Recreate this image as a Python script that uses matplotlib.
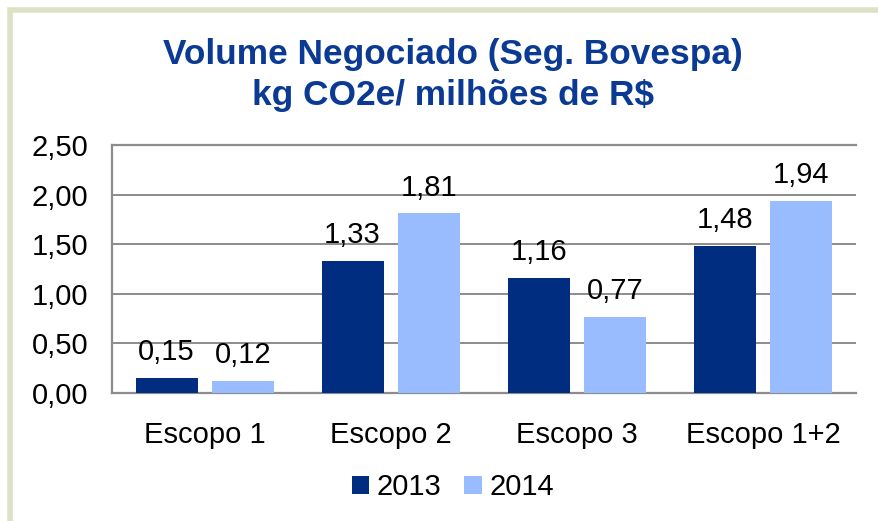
import matplotlib.pyplot as plt
import numpy as np
from matplotlib.patches import Rectangle

categories = ["Escopo 1", "Escopo 2", "Escopo 3", "Escopo 1+2"]
vals_2013 = [0.15, 1.33, 1.16, 1.48]
vals_2014 = [0.12, 1.81, 0.77, 1.94]
series_names = ["2013", "2014"]
yticks = [0.0, 0.5, 1.0, 1.5, 2.0, 2.5]

dark = "#002d7f"
light = "#99bbff"
plt.rcParams['font.family'] = ['Liberation Sans', 'DejaVu Sans']

fig = plt.figure(figsize=(8.79, 5.21), dpi=100)
fig.patches.append(Rectangle((10 / 879, -0.1), 1.2, (521 - 10) / 521 + 0.1,
                             transform=fig.transFigure, fill=False,
                             edgecolor="#dde1c6", linewidth=4))

ax = fig.add_axes([112 / 879, (521 - 393) / 521, (856 - 112) / 879, (393 - 145) / 521])

x = np.arange(len(categories))
w = 0.333
gap = 0.08
b1 = ax.bar(x - (w + gap) / 2, vals_2013, w, color=dark, label=series_names[0], zorder=3)
b2 = ax.bar(x + (w + gap) / 2, vals_2014, w, color=light, label=series_names[1], zorder=3)

for bars, vals in ((b1, vals_2013), (b2, vals_2014)):
    for r, v in zip(bars, vals):
        ax.text(r.get_x() + r.get_width() / 2, v + 0.18, f"{v:.2f}".replace(".", ","),
                ha="center", va="baseline", fontsize=21)

ax.set_xlim(-0.5, len(categories) - 0.5)
ax.set_ylim(0, 2.5)
ax.set_yticks(yticks)
ax.set_yticklabels([f"{t:.2f}".replace(".", ",") for t in yticks], fontsize=21)
ax.set_xticks(x)
ax.set_xticklabels(categories, fontsize=21)
ax.tick_params(axis="y", length=0, pad=17)
ax.tick_params(axis="x", length=0, pad=20)
ax.grid(axis="y", color="#8c8c8c", linewidth=1.4, zorder=0)
ax.spines["right"].set_visible(False)
for s in ("left", "bottom", "top"):
    ax.spines[s].set_color("#8c8c8c")
    ax.spines[s].set_linewidth(1.6)

fig.text(0.515, 0.856, "Volume Negociado (Seg. Bovespa)\nkg CO2e/ milhões de R$",
         ha="center", va="center", fontsize=25.4, fontweight="bold", color="#0a3a94",
         linespacing=1.3)

fig.legend(loc="center", bbox_to_anchor=(0.515, 0.065), ncol=2, frameon=False,
           fontsize=21, handlelength=0.6, handleheight=0.6, handletextpad=0.25,
           columnspacing=0.8)

fig.savefig("out.png", dpi=100)
